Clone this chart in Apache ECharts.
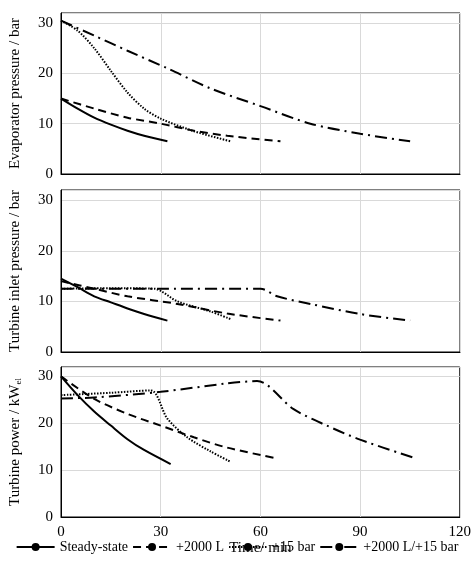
<!DOCTYPE html>
<html><head><meta charset="utf-8">
<script src="https://cdn.jsdelivr.net/npm/echarts@6/dist/echarts.min.js"></script>
<style>html,body{margin:0;background:#fff}#c{width:474px;height:576px}</style>
</head><body><div id="c"></div>
<script>
// 图例名称
var names = ['Steady-state', '+2000 L', '+15 bar', '+2000 L/+15 bar'];
var yNames = ['Evaporator pressure / bar', 'Turbine inlet pressure / bar', 'Turbine power / kW{s|el}'];

// 蒸发器压力
var evapSteady = [[0,15],[5,13],[10,11.2],[15,9.8],[20,8.6],[25,7.6],[32,6.5]];
var evapTank = [[0,15],[10,13],[20,11.2],[30,10],[40,8.6],[50,7.6],[66,6.5]];
var evapBar = [[0,30.5],[5,28.5],[10,25],[15,20.5],[20,16.2],[25,13],[30,11],[40,8.5],[51,6.5]];
var evapBoth = [[0,30.5],[10,27.5],[20,24.5],[32,21],[45,17],[60,13.5],[75,10],[90,8],[105,6.5]];

// 涡轮入口压力
var inSteady = [[0,14.5],[5,12.8],[10,11],[15,9.8],[20,8.6],[25,7.5],[32,6.2]];
var inTank = [[0,14],[10,12.5],[20,11],[35,9.5],[50,7.6],[66,6.2]];
var inBar = [[0,12.5],[15,12.6],[28,12.5],[35,10],[45,8],[51,6.5]];
var inBoth = [[0,12.5],[30,12.5],[60,12.5],[65,11],[75,9.5],[90,7.5],[105,6.2]];

// 涡轮功率
var pSteady = [[0,30],[5,26],[10,22.5],[15,19.5],[20,16.6],[25,14.3],[33,11.3]];
var pTank = [[0,30],[10,25.2],[20,22],[30,19.5],[40,17],[50,14.8],[65,12.5]];
var pBar = [[0,26],[15,26.5],[27,27],[32,21],[38,17],[45,14],[51,11.8]];
var pBoth = [[0,25.3],[10,25.5],[30,26.7],[50,28.5],[59,29],[70,23],[80,19.5],[90,16.5],[106,12.7]];

var panels = [[evapSteady, evapTank, evapBar, evapBoth], [inSteady, inTank, inBar, inBoth], [pSteady, pTank, pBar, pBoth]];
var styles = ['solid', [8,5], [1.5,1.5], [12,5,2,5]];
var font = 'Liberation Serif';

var grids = [
  {left: 61, right: 14, top: 13, height: 161, show: true, borderColor: '#000', borderWidth: 1},
  {left: 61, right: 14, top: 190, height: 162, show: true, borderColor: '#000', borderWidth: 1},
  {left: 61, right: 14, top: 367, height: 150, show: true, borderColor: '#000', borderWidth: 1}
];
var xAxes = [], yAxes = [], series = [];
for (let g = 0; g < 3; g++) {
  xAxes.push({
    gridIndex: g, type: 'value', min: 0, max: 120, interval: 30,
    name: g == 2 ? 'Time/ min' : '', nameLocation: 'middle', nameGap: 18,
    nameTextStyle: {fontFamily: font, fontSize: 15, color: '#000'},
    axisLine: {lineStyle: {color: '#000'}}, axisTick: {show: false},
    axisLabel: {show: g == 2, fontFamily: font, fontSize: 15, color: '#000'},
    splitLine: {lineStyle: {color: '#d9d9d9'}}
  });
  yAxes.push({
    gridIndex: g, type: 'value', min: 0, max: 32, interval: 10,
    name: yNames[g], nameLocation: 'middle', nameGap: 38,
    nameTextStyle: {fontFamily: font, fontSize: 15, color: '#000', rich: {s: {fontSize: 9, verticalAlign: 'bottom', fontFamily: font}}},
    axisLine: {show: true, lineStyle: {color: '#000'}}, axisTick: {show: false},
    axisLabel: {fontFamily: font, fontSize: 15, color: '#000'},
    splitLine: {lineStyle: {color: '#d9d9d9'}}
  });
  for (let s = 0; s < 4; s++) {
    series.push({
      name: names[s], type: 'line', xAxisIndex: g, yAxisIndex: g, smooth: 0.3,
      data: panels[g][s], symbol: 'none', color: '#000',
      lineStyle: {color: '#000', width: 2, type: styles[s]}
    });
  }
}

var myChart = echarts.init(document.getElementById('c'));
myChart.setOption({
  animation: false,
  grid: grids,
  xAxis: xAxes,
  yAxis: yAxes,
  legend: {
    show: true, top: 540, left: 'center', itemWidth: 38, itemHeight: 10, itemGap: 4,
    padding: 0,
    textStyle: {fontFamily: font, fontSize: 14, color: '#000'}
  },
  series: series
});
</script></body></html>
